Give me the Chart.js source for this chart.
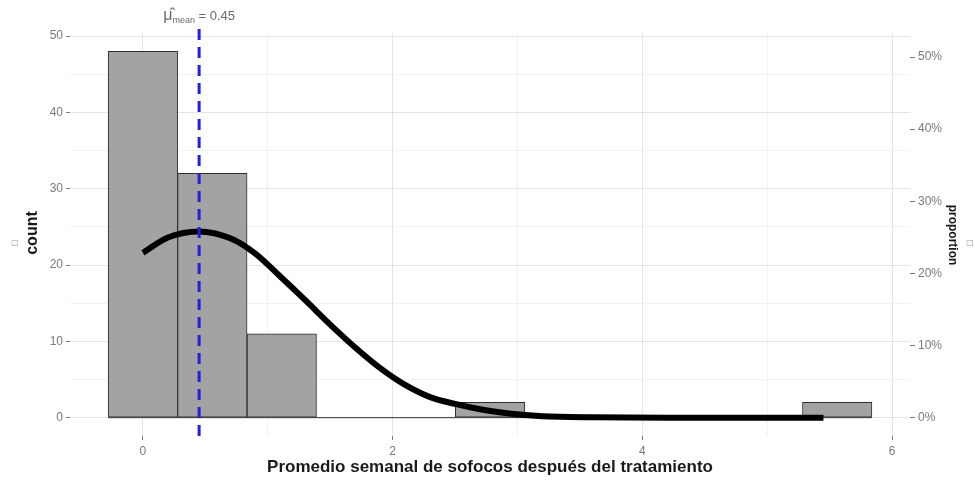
<!DOCTYPE html>
<html>
<head>
<meta charset="utf-8">
<script src="https://cdn.jsdelivr.net/npm/chart.js@4"></script>
<style>
  html, body { margin: 0; padding: 0; background: #fff; }
</style>
</head>
<body>
<canvas id="chart" width="975" height="481"></canvas>
<script>
// histograma: centro de cada bin y conteos
const binCenters = [0, 0.556, 1.112, 1.668, 2.224, 2.78, 3.336, 3.892, 4.448, 5.004, 5.56];
const binCounts = [48, 32, 11, 0, 0, 2, 0, 0, 0, 0, 2];
const binWidth = 0.556;

// curva normal (en escala de conteo)
const curveX = [0, 0.2, 0.45, 0.7, 0.9, 1.1, 1.3, 1.5, 1.7, 1.9, 2.1, 2.3, 2.5, 2.7, 2.9, 3.2, 3.6, 4.2, 5.0, 5.45];
const curveY = [21.6, 23.6, 24.4, 23.5, 21.5, 18.5, 15.4, 12.2, 9.2, 6.5, 4.3, 2.7, 1.8, 1.1, 0.6, 0.2, 0.05, 0, 0, 0];

const meanValue = 0.45;
const meanLabel = ' = 0.45';

// ticks
const xTicks = [0, 1, 2, 3, 4, 5, 6];
const yTicks = [0, 5, 10, 15, 20, 25, 30, 35, 40, 45, 50];
const pTicks = [0, 0.1, 0.2, 0.3, 0.4, 0.5];

const xMin = -0.584, xMax = 6.143;
const yMin = -2.4, yMax = 50.4;
// eje secundario: conteo equivalente al 100%
const propDenominator = 94.5;

const FONT = '"Liberation Sans", Arial, sans-serif';
const GRID_MAJOR = '#e4e4e4';
const GRID_MINOR = '#f2f2f2';
const TICK_COLOR = '#7a7a7a';

const annotate = {
    id: 'annotate',
    afterDatasetsDraw(chart) {
        const { ctx, chartArea, scales } = chart;
        const px = scales.x.getPixelForValue(meanValue);
        ctx.save();
        // linea de la media
        ctx.strokeStyle = '#2020dd';
        ctx.lineWidth = 3;
        ctx.setLineDash([11, 7]);
        ctx.beginPath();
        ctx.moveTo(px, chartArea.top - 4);
        ctx.lineTo(px, chartArea.bottom);
        ctx.stroke();
        ctx.setLineDash([]);

        // etiqueta mu-hat_mean = 0.45
        ctx.fillStyle = '#6a6a6a';
        ctx.textBaseline = 'alphabetic';
        const f1 = '16px ' + FONT, f2 = '9px ' + FONT, f3 = '13px ' + FONT;
        ctx.font = f1; const w1 = ctx.measureText('\u03BC\u0302').width;
        ctx.font = f2; const w2 = ctx.measureText('mean').width;
        ctx.font = f3; const w3 = ctx.measureText(meanLabel).width;
        let x0 = px - (w1 + w2 + w3) / 2;
        const yb = 20;
        ctx.font = f1; ctx.fillText('\u03BC\u0302', x0, yb); x0 += w1;
        ctx.font = f2; ctx.fillText('mean', x0, yb + 3); x0 += w2;
        ctx.font = f3; ctx.fillText(meanLabel, x0, yb);
        ctx.restore();
    },
    afterDraw(chart) {
        const { ctx, chartArea } = chart;
        ctx.save();
        ctx.fillStyle = '#1a1a1a';
        ctx.textAlign = 'center';
        ctx.textBaseline = 'middle';
        ctx.font = 'bold 17px ' + FONT;
        ctx.fillText('Promedio semanal de sofocos después del tratamiento', (chartArea.left + chartArea.right) / 2, 467);

        ctx.save();
        ctx.translate(33, 233);
        ctx.rotate(-Math.PI / 2);
        ctx.font = 'bold 16px ' + FONT;
        ctx.fillText('count', 0, 0);
        ctx.restore();

        ctx.save();
        ctx.translate(952, 235);
        ctx.rotate(Math.PI / 2);
        ctx.font = 'bold 12px ' + FONT;
        ctx.fillText('proportion', 0, 0);
        ctx.restore();

        // glifos faltantes
        ctx.fillStyle = '#9a9a9a';
        ctx.font = '8px "DejaVu Sans"';
        ctx.fillText('\u25A1', 15, 243);
        ctx.fillText('\u25A1', 970, 243);
        ctx.restore();
    }
};

new Chart(document.getElementById('chart'), {
    type: 'bar',
    data: {
        datasets: [
            {
                type: 'line',
                data: curveX.map((x, i) => ({ x: x, y: curveY[i] })),
                borderColor: '#000',
                borderWidth: 6,
                pointRadius: 0,
                cubicInterpolationMode: 'monotone',
                fill: false,
                order: 0,
                yAxisID: 'y'
            },
            {
                type: 'line',
                data: [
                    { x: binCenters[0] - binWidth / 2, y: 0 },
                    { x: binCenters[binCenters.length - 1] + binWidth / 2, y: 0 }
                ],
                borderColor: '#333',
                borderWidth: 1,
                pointRadius: 0,
                order: 1,
                yAxisID: 'y'
            },
            {
                type: 'bar',
                data: binCenters.map((x, i) => ({ x: x, y: binCounts[i] })),
                backgroundColor: '#a3a3a3',
                borderColor: '#2e2e2e',
                borderWidth: 1,
                borderSkipped: false,
                categoryPercentage: 1,
                barPercentage: 1,
                order: 2,
                yAxisID: 'y'
            }
        ]
    },
    options: {
        responsive: false,
        animation: false,
        layout: { padding: { top: 33, left: 0, right: 0, bottom: 0 } },
        plugins: { legend: { display: false }, tooltip: { enabled: false } },
        scales: {
            x: {
                type: 'linear',
                position: 'bottom',
                min: xMin, max: xMax,
                offset: false,
                afterBuildTicks: s => { s.ticks = xTicks.map(v => ({ value: v })); },
                afterFit: s => { s.height = 45; },
                border: { display: false },
                grid: {
                    offset: false,
                    color: c => (c.tick && c.tick.value % 2 === 0) ? GRID_MAJOR : GRID_MINOR,
                    tickColor: c => (c.tick && c.tick.value % 2 === 0) ? TICK_COLOR : 'rgba(0,0,0,0)',
                    tickLength: 4
                },
                ticks: {
                    color: '#7a7a7a',
                    font: { family: FONT, size: 12 },
                    padding: 4,
                    maxRotation: 0,
                    callback: v => v % 2 === 0 ? String(v) : ''
                }
            },
            y: {
                type: 'linear',
                position: 'left',
                min: yMin, max: yMax,
                afterBuildTicks: s => { s.ticks = yTicks.map(v => ({ value: v })); },
                afterFit: s => { s.width = 70; },
                border: { display: false },
                grid: {
                    color: c => (c.tick && c.tick.value % 10 === 0) ? GRID_MAJOR : GRID_MINOR,
                    tickColor: c => (c.tick && c.tick.value % 10 === 0) ? TICK_COLOR : 'rgba(0,0,0,0)',
                    tickLength: 4
                },
                ticks: {
                    color: '#7a7a7a',
                    font: { family: FONT, size: 12 },
                    padding: 3,
                    callback: v => v % 10 === 0 ? String(v) : ''
                }
            },
            y2: {
                type: 'linear',
                position: 'right',
                min: yMin / propDenominator, max: yMax / propDenominator,
                afterBuildTicks: s => { s.ticks = pTicks.map(v => ({ value: v })); },
                afterFit: s => { s.width = 65; },
                border: { display: false },
                grid: { drawOnChartArea: false, tickColor: TICK_COLOR, tickLength: 5 },
                ticks: {
                    color: '#7a7a7a',
                    font: { family: FONT, size: 12 },
                    padding: 3,
                    callback: v => Math.round(v * 100) + '%'
                }
            }
        }
    },
    plugins: [annotate]
});
</script>
</body>
</html>
